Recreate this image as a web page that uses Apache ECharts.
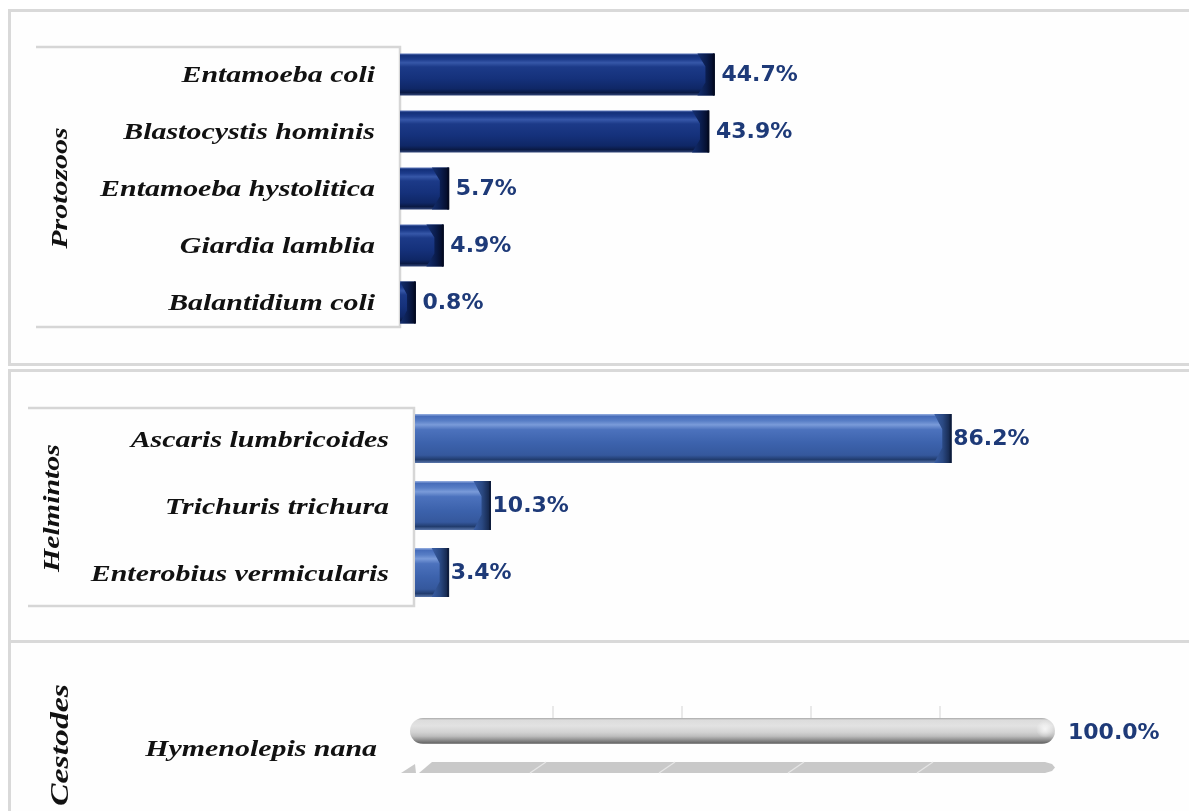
<!DOCTYPE html>
<html>
<head>
<meta charset="utf-8">
<script src="https://cdn.jsdelivr.net/npm/echarts@6/dist/echarts.min.js"></script>
<style>
  html, body { margin: 0; padding: 0; background: #ffffff; }
  #chart { width: 1189px; height: 811px; }
</style>
</head>
<body>
<div id="chart"></div>
<script>
// Parasite frequencies (%) by group
const protozoaNames = ['Entamoeba coli', 'Blastocystis hominis', 'Entamoeba hystolitica', 'Giardia lamblia', 'Balantidium coli'];
const protozoaValues = [44.7, 43.9, 5.7, 4.9, 0.8];

const helminthNames = ['Ascaris lumbricoides', 'Trichuris trichura', 'Enterobius vermicularis'];
const helminthValues = [86.2, 10.3, 3.4];

const cestodeNames = ['Hymenolepis nana'];
const cestodeValues = [100.0];
const cestodeTicks = [20, 40, 60, 80];

const groupTitles = ['Protozoos', 'Helmintos', 'Cestodes'];

const SERIF = 'Liberation Serif';
const SANS = 'DejaVu Sans';
const LABEL_COLOR = '#1e3a78';
const TEXT_STRETCH = 1.3;

function vGrad(stops) {
  return new echarts.graphic.LinearGradient(0, 0, 0, 1,
    stops.map(s => ({ offset: s[0], color: s[1] })));
}
function hGrad(stops) {
  return new echarts.graphic.LinearGradient(0, 0, 1, 0,
    stops.map(s => ({ offset: s[0], color: s[1] })));
}

const navyBody = [[0, '#5a74b8'], [0.05, '#13307a'], [0.14, '#1d3c8c'], [0.22, '#3657a8'], [0.32, '#1c3a88'],
                  [0.6, '#15317b'], [0.84, '#0f2766'], [0.93, '#0a1a45'], [1, '#33477a']];
const navyFace = [[0, '#142f70'], [0.5, '#0b1e50'], [1, '#030a24']];
const blueBody = [[0, '#9ab2e2'], [0.05, '#476dba'], [0.14, '#587ec6'], [0.22, '#7a9bd9'], [0.32, '#4c72bd'],
                  [0.6, '#3c62ac'], [0.84, '#35589d'], [0.93, '#213c6e'], [1, '#5a76aa']];
const blueFace = [[0, '#3a5ea5'], [0.5, '#2a4983'], [1, '#122244']];

// Bar with a bevelled end cap; category label on the left, value label on the right
function beveledBar(names, o) {
  return function (params, api) {
    const v = api.value(0);
    const idx = api.value(1);
    const end = api.coord([v, idx]);
    const base = api.coord([0, idx]);
    const h = o.height;
    const x0 = base[0] - o.depth;
    const x1 = end[0];
    const y0 = end[1] - h / 2;
    const y1 = y0 + h;
    const w = x1 - x0;
    const b = Math.min(17, w);
    const inner = Math.min(9, w * 0.55);
    const vb = h * 0.31;
    return {
      type: 'group',
      children: [
        { type: 'rect', shape: { x: x0, y: y0, width: w, height: h }, style: { fill: vGrad(o.body) } },
        { type: 'polygon',
          shape: { points: [[x1 - b, y0], [x1, y0], [x1, y1], [x1 - b, y1], [x1 - inner, y1 - vb], [x1 - inner, y0 + vb]] },
          style: { fill: hGrad(o.face) } },
        { type: 'line', shape: { x1: x1 - 0.5, y1: y0, x2: x1 - 0.5, y2: y1 }, style: { stroke: o.edge, lineWidth: 2 } },
        { type: 'text', x: x1 + o.gap, y: end[1] + 1,
          style: { text: v.toFixed(1) + '%', align: 'left', verticalAlign: 'middle',
                   fontFamily: SANS, fontWeight: 'bold', fontSize: 22, fill: LABEL_COLOR } },
        { type: 'text', x: base[0] - o.labelGap, y: end[1] + o.labelDy, scaleX: TEXT_STRETCH,
          style: { text: names[idx], align: 'right', verticalAlign: 'middle',
                   fontFamily: SERIF, fontStyle: 'italic', fontWeight: 'bold', fontSize: 23, fill: '#111111' } }
      ]
    };
  };
}

// Rounded cylinder on a floor with back-wall grid marks
function cylinderBar(params, api) {
  const v = api.value(0);
  const idx = api.value(1);
  const end = api.coord([v, idx]);
  const base = api.coord([0, idx]);
  const h = 26;
  const cy = end[1];
  const y0 = cy - h / 2;
  const x0 = base[0];
  const x1 = end[0];
  const fy = cy + 42;   // floor front edge
  const by = cy + 31;   // floor back edge
  const children = [];

  cestodeTicks.forEach(t => {
    const x = api.coord([t, idx])[0] + 14;
    children.push({ type: 'line', shape: { x1: x, y1: y0 - 12, x2: x, y2: y0 + 2 },
                    style: { stroke: '#d4d4d4', lineWidth: 1 } });
  });

  children.push({ type: 'polygon',
    shape: { points: [[x0 - 9, fy], [x0 + 6, fy], [x0 + 5, by + 2]] },
    style: { fill: '#cacaca' } });
  children.push({ type: 'polygon',
    shape: { points: [[x0 + 9, fy], [x0 + 22, by], [x1 - 10, by], [x1 - 3, by + 2], [x1, by + 5.5], [x1 - 3, fy - 2], [x1 - 10, fy]] },
    style: { fill: '#c9c9c9' } });
  cestodeTicks.forEach(t => {
    const x = api.coord([t, idx])[0];
    children.push({ type: 'line', shape: { x1: x - 9, y1: fy, x2: x + 7, y2: by },
                    style: { stroke: '#e6e6e6', lineWidth: 1.2 } });
  });

  children.push({ type: 'rect',
    shape: { x: x0, y: y0, width: x1 - x0, height: h, r: h / 2 },
    style: { fill: vGrad([[0, '#a8a8a8'], [0.08, '#dcdcdc'], [0.3, '#e2e2e2'], [0.55, '#d2d2d2'],
                          [0.7, '#bdbdbd'], [0.85, '#8e8e8e'], [0.95, '#6c6c6c'], [1, '#959595']]) } });
  children.push({ type: 'circle',
    shape: { cx: x1 - 10, cy: cy - 2, r: 9 },
    style: { fill: new echarts.graphic.RadialGradient(0.5, 0.5, 0.5,
      [{ offset: 0, color: 'rgba(255,255,255,0.75)' }, { offset: 1, color: 'rgba(255,255,255,0)' }]) } });

  children.push({ type: 'text', x: x1 + 13, y: cy + 2,
    style: { text: v.toFixed(1) + '%', align: 'left', verticalAlign: 'middle',
             fontFamily: SANS, fontWeight: 'bold', fontSize: 22, fill: LABEL_COLOR } });
  children.push({ type: 'text', x: base[0] - 33, y: cy + 19, scaleX: TEXT_STRETCH,
    style: { text: cestodeNames[idx], align: 'right', verticalAlign: 'middle',
             fontFamily: SERIF, fontStyle: 'italic', fontWeight: 'bold', fontSize: 23, fill: '#111111' } });
  return { type: 'group', children };
}

function titleText(text, x, y, size) {
  return { type: 'text', x, y, rotation: Math.PI / 2, scaleX: TEXT_STRETCH, z: 10,
    style: { text, align: 'center', verticalAlign: 'middle',
             fontFamily: SERIF, fontStyle: 'italic', fontWeight: 'bold', fontSize: size, fill: '#111111' } };
}

const frame = { stroke: '#d9d9d9', lineWidth: 3, fill: '#fefefe' };
const boxLine = { stroke: '#d6d6d6', lineWidth: 2.5, fill: null };

const chart = echarts.init(document.getElementById('chart'), null, { renderer: 'canvas' });

const hiddenValueAxis = (gi, max) => ({ type: 'value', gridIndex: gi, min: 0, max, show: false, splitLine: { show: false } });
const hiddenCatAxis = (gi, data) => ({ type: 'category', gridIndex: gi, data, inverse: true, show: false });

chart.setOption({
  backgroundColor: '#ffffff',
  animation: false,
  grid: [
    { left: 410, width: 681, top: 46, height: 285 },
    { left: 428, width: 607, top: 405, height: 201 },
    { left: 410, width: 645, top: 700, height: 62 }
  ],
  xAxis: [hiddenValueAxis(0, 100), hiddenValueAxis(1, 100), hiddenValueAxis(2, 100)],
  yAxis: [hiddenCatAxis(0, protozoaNames), hiddenCatAxis(1, helminthNames), hiddenCatAxis(2, cestodeNames)],
  graphic: [
    { type: 'rect', shape: { x: 9.5, y: 10.5, width: 1200, height: 354 }, style: frame, z: -10 },
    { type: 'rect', shape: { x: 9.5, y: 370.5, width: 1200, height: 271 }, style: frame, z: -10 },
    { type: 'rect', shape: { x: 9.5, y: 641.5, width: 1200, height: 200 }, style: frame, z: -10 },
    { type: 'polyline', shape: { points: [[36, 47], [400, 47], [400, 327], [36, 327]] }, style: boxLine, z: -5 },
    { type: 'polyline', shape: { points: [[28, 408], [414, 408], [414, 606], [28, 606]] }, style: boxLine, z: -5 },
    titleText(groupTitles[0], 61, 188, 23),
    titleText(groupTitles[1], 53, 508, 23),
    titleText(groupTitles[2], 61, 745, 26)
  ],
  series: [
    { type: 'custom', xAxisIndex: 0, yAxisIndex: 0, encode: { x: 0, y: 1 },
      data: protozoaValues.map((v, i) => [v, i]),
      renderItem: beveledBar(protozoaNames, { height: 42, depth: 10, gap: 7, labelGap: 35, labelDy: 2,
                                              body: navyBody, face: navyFace, edge: '#030a22' }) },
    { type: 'custom', xAxisIndex: 1, yAxisIndex: 1, encode: { x: 0, y: 1 },
      data: helminthValues.map((v, i) => [v, i]),
      renderItem: beveledBar(helminthNames, { height: 49, depth: 13, gap: 2, labelGap: 39, labelDy: 3,
                                              body: blueBody, face: blueFace, edge: '#0e1d3d' }) },
    { type: 'custom', xAxisIndex: 2, yAxisIndex: 2, encode: { x: 0, y: 1 },
      data: cestodeValues.map((v, i) => [v, i]),
      renderItem: cylinderBar }
  ]
});
</script>
</body>
</html>
